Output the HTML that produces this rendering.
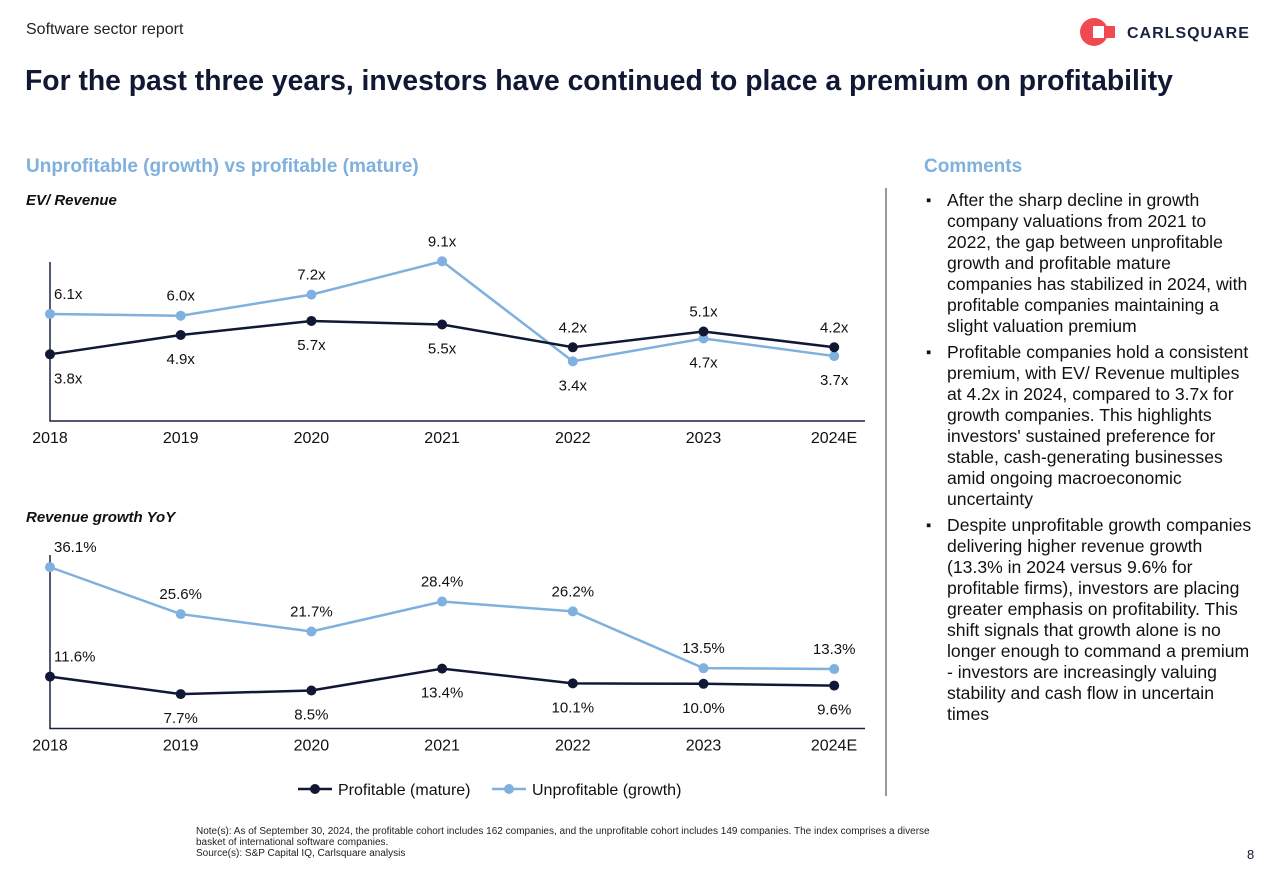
<!DOCTYPE html>
<html><head><meta charset="utf-8"><style>
body{margin:0;width:1284px;height:883px;background:#fff;font-family:"Liberation Sans",sans-serif;overflow:hidden;position:relative;color:#111833}
.a{position:absolute}
.li{position:relative;padding-left:21px;margin-bottom:5px;white-space:nowrap}
.li span{position:absolute;left:0;top:0;font-size:15px}
</style></head><body>
<div class="a" style="left:26px;top:21px;font-size:16px;color:#222">Software sector report</div>
<div class="a" style="left:1079px;top:17px;width:180px;height:30px">
<svg width="180" height="30"><circle cx="15" cy="15" r="14" fill="#f04a50"/><rect x="14" y="9" width="11" height="12" fill="#fff"/><rect x="25" y="9" width="11" height="12" fill="#f04a50"/>
<text x="48" y="21" font-size="16" font-weight="bold" fill="#1b2341" font-family="Liberation Sans" letter-spacing="1">CARLSQUARE</text></svg></div>
<div class="a" style="left:25px;top:64px;font-size:28.3px;font-weight:bold;color:#111833;white-space:nowrap">For the past three years, investors have continued to place a premium on profitability</div>
<div class="a" style="left:26px;top:156px;font-size:19px;font-weight:bold;color:#7fb0de">Unprofitable (growth) vs profitable (mature)</div>
<div class="a" style="left:924px;top:156px;font-size:19px;font-weight:bold;color:#7fb0de">Comments</div>
<div class="a" style="left:885px;top:188px;width:2px;height:608px;background:#999"></div>
<div class="a" style="left:926px;top:190px;width:340px;font-size:17.6px;line-height:21px;color:#111">
<div class="li"><span>▪</span>After the sharp decline in growth<br>company valuations from 2021 to<br>2022, the gap between unprofitable<br>growth and profitable mature<br>companies has stabilized in 2024, with<br>profitable companies maintaining a<br>slight valuation premium</div>
<div class="li"><span>▪</span>Profitable companies hold a consistent<br>premium, with EV/ Revenue multiples<br>at 4.2x in 2024, compared to 3.7x for<br>growth companies. This highlights<br>investors' sustained preference for<br>stable, cash-generating businesses<br>amid ongoing macroeconomic<br>uncertainty</div>
<div class="li"><span>▪</span>Despite unprofitable growth companies<br>delivering higher revenue growth<br>(13.3% in 2024 versus 9.6% for<br>profitable firms), investors are placing<br>greater emphasis on profitability. This<br>shift signals that growth alone is no<br>longer enough to command a premium<br>- investors are increasingly valuing<br>stability and cash flow in uncertain<br>times</div>
</div>
<div class="a" style="left:196px;top:826px;font-size:10px;line-height:11px;color:#222;width:800px;white-space:nowrap">Note(s): As of September 30, 2024, the profitable cohort includes 162 companies, and the unprofitable cohort includes 149 companies. The index comprises a diverse<br>basket of international software companies.<br>Source(s): S&amp;P Capital IQ, Carlsquare analysis</div>
<div class="a" style="left:1247px;top:847px;font-size:13px">8</div>
<svg class="a" id="ch" style="left:0;top:0" width="880" height="820"></svg>
<script>
const years=["2018","2019","2020","2021","2022","2023","2024E"];
const evProf=[3.8,4.9,5.7,5.5,4.2,5.1,4.2];
const evUnprof=[6.1,6.0,7.2,9.1,3.4,4.7,3.7];
const gProf=[11.6,7.7,8.5,13.4,10.1,10.0,9.6];
const gUnprof=[36.1,25.6,21.7,28.4,26.2,13.5,13.3];
const evProfPos=[1,1,1,1,-1,-1,-1];
const evUnprofPos=[-1,-1,-1,-1,1,1,1];
const gProfPos=[-1,1,1,1,1,1,1];
const gUnprofPos=[-1,-1,-1,-1,-1,-1,-1];
const svg=document.getElementById('ch');const NS='http://www.w3.org/2000/svg';
function mk(t,a,p){const e=document.createElementNS(NS,t);for(const k in a)e.setAttribute(k,a[k]);(p||svg).appendChild(e);return e;}
const xs=i=>50+i*130.7;
function chart(name,title,titleY,base,top,scale,prof,unprof,pp,up,fmt){
 const t=mk('text',{x:26,y:titleY,'font-size':15,'font-weight':'bold','font-style':'italic',fill:'#111'});t.textContent=title;
 
 
 const ax=mk('path',{d:`M50 ${top}V${base}H865`,stroke:'#1b2341','stroke-width':1.5,fill:'none'});
 
 
 const ys=v=>base-v*scale;
 years.forEach((y,i)=>{const l=mk('text',{x:i==6?834:xs(i),y:base+22,'font-size':16,'text-anchor':'middle',fill:'#111'});l.textContent=y;
  
  });
 [[unprof,'#7fb0de',up,'unprofitable'],[prof,'#111833',pp,'profitable']].forEach(([d,c,pos,s])=>{
  const ln=mk('polyline',{points:d.map((v,i)=>xs(i)+','+ys(v)).join(' '),stroke:c,'stroke-width':2.5,fill:'none'});
  
  
  d.forEach((v,i)=>{const p=mk('circle',{cx:xs(i),cy:ys(v),r:5,fill:c});
   
   
   const ty=ys(v)+(pos[i]<0?-15:29);
   const lb=mk('text',{x:i==0?54:xs(i),y:ty,'font-size':15,'text-anchor':i==0?'start':'middle',fill:'#111'});lb.textContent=fmt(v);
   
   });
 });
}
chart('ev-revenue','EV/ Revenue',205,421,262,17.55,evProf,evUnprof,evProfPos,evUnprofPos,v=>v.toFixed(1)+'x');
chart('revenue-growth','Revenue growth YoY',522,728.5,555,4.47,gProf,gUnprof,gProfPos,gUnprofPos,v=>v.toFixed(1)+'%');
const lg=mk('g',{});


[['#111833','Profitable (mature)',298],['#7fb0de','Unprofitable (growth)',492]].forEach(([c,s,x])=>{
 mk('line',{x1:x,x2:x+34,y1:789,y2:789,stroke:c,'stroke-width':2.5},lg);mk('circle',{cx:x+17,cy:789,r:5,fill:c},lg);
 const t=mk('text',{x:x+40,y:795,'font-size':16,fill:'#111'},lg);t.textContent=s;
 
 
});
</script>
</body></html>
